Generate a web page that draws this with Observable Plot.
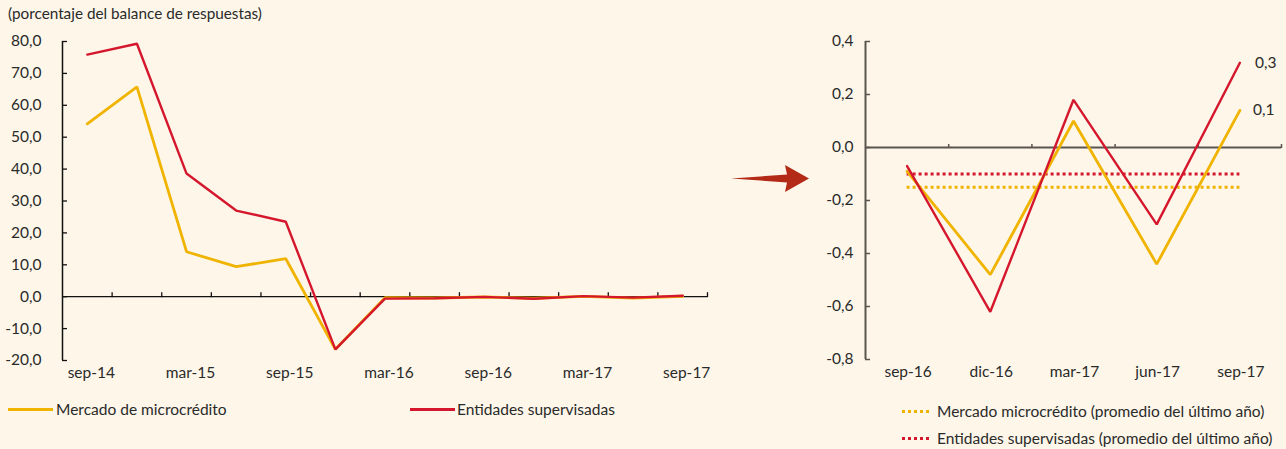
<!DOCTYPE html>
<html>
<head>
<meta charset="utf-8">
<script src="https://cdn.jsdelivr.net/npm/d3@7"></script>
<script src="https://cdn.jsdelivr.net/npm/@observablehq/plot@0.6"></script>
<style>
  html, body { margin: 0; padding: 0; background: #fdf6e9; }
  #wrap { position: relative; width: 1286px; height: 449px; background: #fdf6e9; font-family: Lato, "Open Sans", sans-serif; color: #2a2a2a; overflow: hidden; }
  .abs { position: absolute; }
  .leg { position: absolute; font-size: 15.5px; line-height: 18px; white-space: nowrap; color: #2a2a2a; }
  .sw { position: absolute; height: 3px; }
  .dot { position: absolute; height: 3px; background-image: repeating-linear-gradient(to right, var(--c) 0 3px, transparent 3px 6px); }
</style>
</head>
<body>
<div id="wrap">
  <div class="leg" style="left:8px; top:4px; font-size:15.3px;">(porcentaje del balance de respuestas)</div>
  <div id="left" class="abs" style="left:0; top:0;"></div>
  <div id="right" class="abs" style="left:720px; top:0;"></div>
  <svg class="abs" style="left:0; top:0;" width="1286" height="449">
    <path d="M731,178.5 L787,174.5 L785,165 L809,178.5 L785,192 L787,182.5 Z" fill="#b32a17"/>
  </svg>
  <!-- left legend -->
  <div class="sw" style="left:8px; top:408px; width:45px; background:#f0b400;"></div>
  <div class="leg" id="legMicro" style="left:56px; top:400px;"></div>
  <div class="sw" style="left:410px; top:408px; width:45px; background:#d5172e;"></div>
  <div class="leg" id="legSuper" style="left:457px; top:400px;"></div>
  <!-- right legend -->
  <div class="dot" style="left:902px; top:410px; width:30px; --c:#f0b400;"></div>
  <div class="leg" id="legAvgMicro" style="left:937px; top:402px;"></div>
  <div class="dot" style="left:902px; top:437px; width:30px; --c:#d5172e;"></div>
  <div class="leg" id="legAvgSuper" style="left:937px; top:429px;"></div>
</div>
<script>
// ---------- DATA ----------
const quartersL = ["sep-14","dic-14","mar-15","jun-15","sep-15","dic-15","mar-16","jun-16","sep-16","dic-16","mar-17","jun-17","sep-17"];
const microL = [54.2, 65.8, 14.1, 9.4, 11.9, -16.5, -0.3, -0.4, -0.09, -0.48, 0.10, -0.44, 0.14];
const superL = [75.9, 79.3, 38.6, 27.0, 23.5, -16.5, -0.6, -0.5, -0.07, -0.62, 0.18, -0.29, 0.32];
const yTicksL = [-20, -10, 0, 10, 20, 30, 40, 50, 60, 70, 80];

const quartersR = ["sep-16","dic-16","mar-17","jun-17","sep-17"];
const microR = [-0.09, -0.48, 0.10, -0.44, 0.14];
const superR = [-0.07, -0.62, 0.18, -0.29, 0.32];
const avgMicroR = -0.15;
const avgSuperR = -0.10;
const yTicksR = [-0.8, -0.6, -0.4, -0.2, 0.0, 0.2, 0.4];

const seriesNames = ["Mercado de microcrédito", "Entidades supervisadas"];
const avgNames = ["Mercado microcrédito (promedio del último año)", "Entidades supervisadas (promedio del último año)"];

const YELLOW = "#f0b400";
const RED = "#d5172e";
const FS = "15.5px";

const fmt1 = d => d.toFixed(1).replace(".", ",").replace("-0,0", "0,0");

// ---------- LEFT CHART ----------
{
  const H = 390, mT = 41, mB = 30;
  const idx = quartersL.map((q, i) => i);
  const bounds = d3.range(0.5, quartersL.length, 1);
  const labelIdx = idx.filter(i => i % 2 === 0);
  const yDom = [-20, 80];
  const zeroDy = (H - mT - mB) * (yDom[1] - 0) / (yDom[1] - yDom[0]);
  const chart = Plot.plot({
    width: 720, height: H,
    marginLeft: 62, marginRight: 13, marginTop: mT, marginBottom: mB,
    style: { background: "transparent", fontFamily: "Lato, sans-serif", fontSize: FS, color: "#2a2a2a" },
    x: { domain: [-0.5, quartersL.length - 0.5] },
    y: { domain: yDom },
    marks: [
      Plot.ruleY([0], { stroke: "#111", strokeWidth: 1.3 }),
      Plot.ruleX([-0.5], { stroke: "#111", strokeWidth: 1.5 }),
      Plot.axisY({ ticks: yTicksL, tickSize: 5, dx: 5, tickFormat: () => "", stroke: "#111", strokeWidth: 1.3, label: null }),
      Plot.axisY({ ticks: yTicksL, tickSize: 0, tickPadding: 21, tickFormat: fmt1, label: null }),
      Plot.axisX({ anchor: "top", ticks: bounds, tickSize: 5, dy: zeroDy, tickFormat: () => "", stroke: "#111", strokeWidth: 1.3, label: null }),
      Plot.axisX({ anchor: "bottom", ticks: labelIdx, tickSize: 0, tickPadding: 6, dx: 4, tickFormat: i => quartersL[i], label: null }),
      Plot.line(microL, { x: (d, i) => i, y: d => d, stroke: YELLOW, strokeWidth: 2.8, strokeLinejoin: "miter" }),
      Plot.line(superL, { x: (d, i) => i, y: d => d, stroke: RED, strokeWidth: 2.4, strokeLinejoin: "miter" })
    ]
  });
  document.getElementById("left").appendChild(chart);
}

// ---------- RIGHT CHART ----------
{
  const H = 390, mT = 41, mB = 31;
  const idx = quartersR.map((q, i) => i);
  const bounds = d3.range(0.5, quartersR.length, 1);
  const yDom = [-0.8, 0.4];
  const zeroDy = (H - mT - mB) * (yDom[1] - 0) / (yDom[1] - yDom[0]);
  const last = quartersR.length - 1;
  const chart = Plot.plot({
    width: 566, height: H,
    marginLeft: 145, marginRight: 5, marginTop: mT, marginBottom: mB,
    style: { background: "transparent", fontFamily: "Lato, sans-serif", fontSize: FS, color: "#2a2a2a" },
    x: { domain: [-0.5, quartersR.length - 0.5] },
    y: { domain: yDom },
    marks: [
      Plot.ruleY([0], { stroke: "#5a5550", strokeWidth: 2 }),
      Plot.ruleX([-0.5], { stroke: "#5a5550", strokeWidth: 2 }),
      Plot.axisY({ ticks: yTicksR, tickSize: 5, dx: 5, tickFormat: () => "", stroke: "#5a5550", strokeWidth: 1.5, label: null }),
      Plot.axisY({ ticks: yTicksR, tickSize: 0, tickPadding: 12, tickFormat: fmt1, label: null }),
      Plot.axisX({ anchor: "top", ticks: bounds, tickSize: 4, dy: zeroDy, tickFormat: () => "", stroke: "#5a5550", strokeWidth: 1.5, label: null }),
      Plot.axisX({ anchor: "bottom", ticks: idx, tickSize: 0, tickPadding: 6, dx: 1, tickFormat: i => quartersR[i], label: null }),
      Plot.ruleY([avgSuperR], { x1: 0, x2: last, stroke: RED, strokeWidth: 3, strokeDasharray: "3,3" }),
      Plot.ruleY([avgMicroR], { x1: 0, x2: last, stroke: YELLOW, strokeWidth: 3, strokeDasharray: "3,3" }),
      Plot.line(microR, { x: (d, i) => i, y: d => d, stroke: YELLOW, strokeWidth: 2.8, strokeLinejoin: "miter" }),
      Plot.line(superR, { x: (d, i) => i, y: d => d, stroke: RED, strokeWidth: 2.4, strokeLinejoin: "miter" }),
      Plot.text([superR[last]], { x: last, y: d => d, text: d => fmt1(d), dx: 15, textAnchor: "start", fontSize: 15.5, fill: "#2a2a2a" }),
      Plot.text([microR[last]], { x: last, y: d => d, text: d => fmt1(d), dx: 13, textAnchor: "start", fontSize: 15.5, fill: "#2a2a2a" })
    ]
  });
  document.getElementById("right").appendChild(chart);
}

document.getElementById("legMicro").textContent = seriesNames[0];
document.getElementById("legSuper").textContent = seriesNames[1];
document.getElementById("legAvgMicro").textContent = avgNames[0];
document.getElementById("legAvgSuper").textContent = avgNames[1];
</script>
</body>
</html>
